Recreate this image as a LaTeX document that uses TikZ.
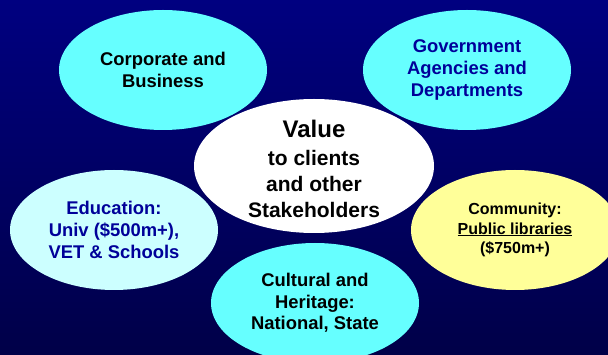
\documentclass[tikz,border=0pt]{standalone}
\usepackage{fontspec}
\setmainfont{Liberation Sans}
\usetikzlibrary{shapes.geometric}
\definecolor{bgtop}{RGB}{0,0,128}
\definecolor{bgbot}{RGB}{0,0,72}
\definecolor{cyanfill}{HTML}{66FFFF}
\definecolor{lightcyan}{HTML}{CCFFFF}
\definecolor{paleyellow}{HTML}{FFFF99}
\definecolor{darkbluetext}{HTML}{000099}
\begin{document}
\begin{tikzpicture}[x=1pt,y=-1pt,
  bubble/.style={ellipse, inner sep=0pt, minimum width=208pt, minimum height=120pt,
    align=center, font=\bfseries\fontsize{18.4}{21.7}\selectfont},
  centre/.style={ellipse, inner sep=0pt, minimum width=240pt, minimum height=134pt,
    align=center, fill=white, font=\bfseries\fontsize{21}{26}\selectfont}]
\useasboundingbox (0,0) rectangle (608,355);
\clip (0,0) rectangle (608,355);
\shade[top color=bgtop, bottom color=bgbot] (0,0) rectangle (608,355);
\node[bubble, fill=cyanfill, text=black] (corp) at (163,70) {Corporate and\\Business};
\node[bubble, fill=cyanfill, text=darkbluetext] (gov) at (467,70) {Government\\Agencies and\\Departments};
\node[bubble, fill=lightcyan, text=darkbluetext] (edu) at (114,230) {Education:\\Univ (\$500m+),\\VET \& Schools};
\node[bubble, fill=paleyellow, text=black, font=\bfseries\fontsize{16}{19.5}\selectfont] (comm) at (515,230) {Community:\\\underline{Public libraries}\\(\$750m+)};
\node[bubble, fill=cyanfill, text=black] (cult) at (315,303) {Cultural and\\Heritage:\\National, State};
\node[centre] (val) at (314,166) {};
\node[align=center, font=\bfseries\fontsize{21}{26}\selectfont, inner sep=0pt] (valtext) at (314,169) {{\fontsize{24}{28}\selectfont Value}\\[2pt]to clients\\and other\\Stakeholders};
\end{tikzpicture}
\end{document}
